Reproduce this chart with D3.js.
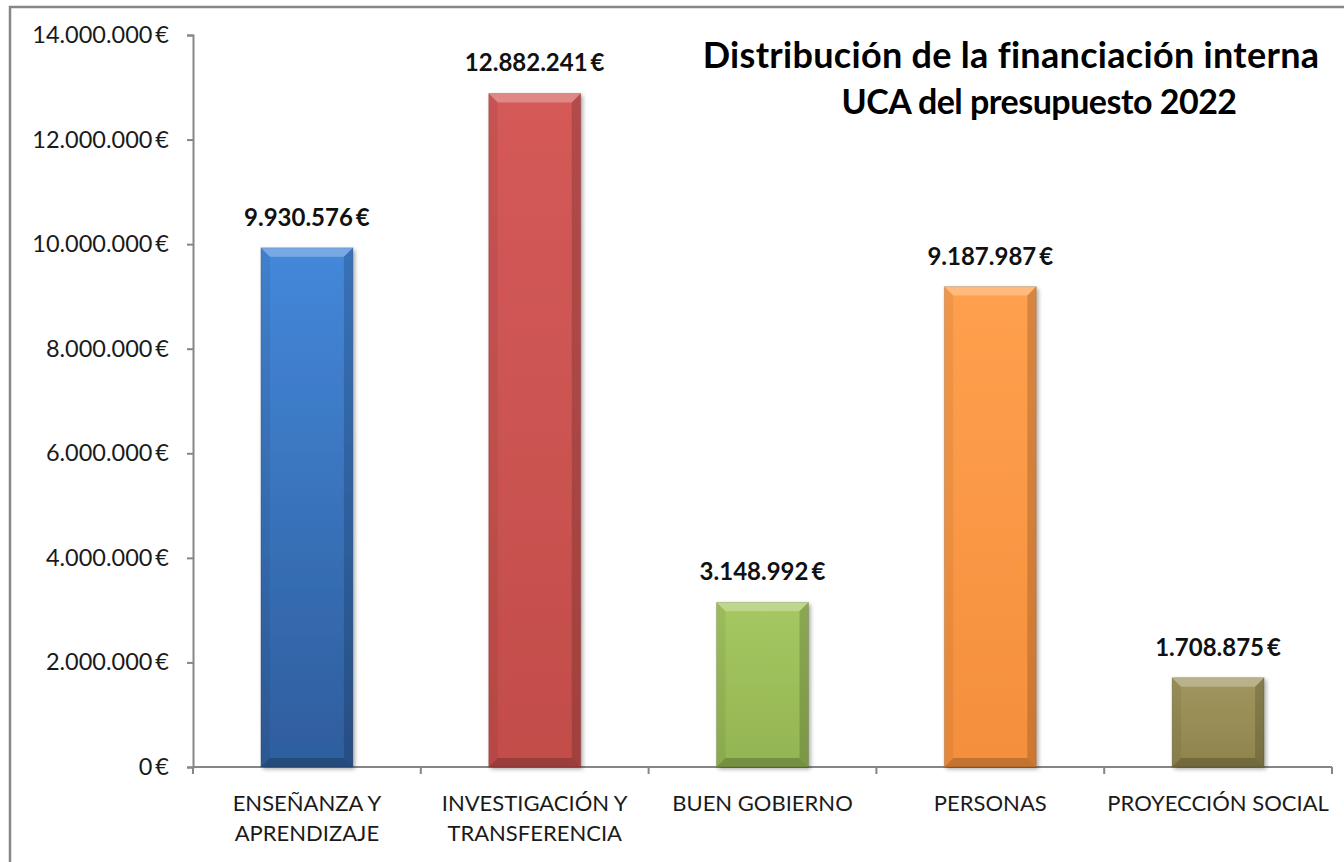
<!DOCTYPE html>
<html>
<head>
<meta charset="utf-8">
<script src="https://cdn.jsdelivr.net/npm/d3@7"></script>
<style>
  body { margin: 0; background: #fff; }
  svg { display: block; font-family: Lato, "Open Sans", sans-serif; }
</style>
</head>
<body>
<div id="chart"></div>
<script>
const categories = [
  ["ENSEÑANZA Y", "APRENDIZAJE"],
  ["INVESTIGACIÓN Y", "TRANSFERENCIA"],
  ["BUEN GOBIERNO"],
  ["PERSONAS"],
  ["PROYECCIÓN SOCIAL"]
];
const values = [9930576, 12882241, 3148992, 9187987, 1708875];
const yTicks = [0, 2000000, 4000000, 6000000, 8000000, 10000000, 12000000, 14000000];
const titleLines = ["Distribución de la financiación interna", "UCA del presupuesto 2022"];

// bar colours: [top, bottom]
const colors = [
  ["#4488da", "#2e5d9c"],
  ["#d45a58", "#c24d4a"],
  ["#a6c862", "#93b452"],
  ["#ffa04e", "#f48f3c"],
  ["#a0965e", "#8e844c"]
];

const W = 1344, H = 862;
const margin = {top: 35, right: 12, bottom: 95, left: 193};
const width = W - margin.left - margin.right,
      height = H - margin.top - margin.bottom;

const fmt = v => d3.format(",")(v).replace(/,/g, ".") + "\u2009€";

const svg = d3.select("#chart").append("svg")
  .attr("width", W).attr("height", H);

// outer frame
svg.append("rect")
  .attr("x", 10).attr("y", 7)
  .attr("width", W + 20).attr("height", H + 20)
  .attr("fill", "none").attr("stroke", "#878787").attr("stroke-width", 2.5);

const defs = svg.append("defs");
colors.forEach((c, i) => {
  const g = defs.append("linearGradient").attr("id", "grad" + i)
    .attr("x1", 0).attr("y1", 0).attr("x2", 0).attr("y2", 1);
  g.append("stop").attr("offset", "0%").attr("stop-color", c[0]);
  g.append("stop").attr("offset", "100%").attr("stop-color", c[1]);
});
const sh = defs.append("filter").attr("id", "shadow")
  .attr("x", "-20%").attr("y", "-20%").attr("width", "150%").attr("height", "150%");
sh.append("feDropShadow").attr("dx", 2).attr("dy", 2).attr("stdDeviation", 2)
  .attr("flood-color", "#000").attr("flood-opacity", 0.35);

const g = svg.append("g").attr("transform", `translate(${margin.left},${margin.top})`);

const x = d3.scaleBand().domain(d3.range(values.length)).range([0, width]).padding(0);
const y = d3.scaleLinear().domain([0, 14000000]).range([height, 0]);

// y axis
const yAxis = g.append("g")
  .call(d3.axisLeft(y).tickValues(yTicks).tickSize(6).tickPadding(18).tickFormat(fmt));
yAxis.select(".domain").attr("stroke", "#868686").attr("stroke-width", 2);
yAxis.selectAll(".tick line").attr("stroke", "#868686").attr("stroke-width", 2);
yAxis.selectAll("text").attr("font-size", 23.5).attr("fill", "#1a1a1a")
  .attr("font-family", "Lato, sans-serif");

// x axis with ticks at category boundaries
const xa = g.append("g").attr("transform", `translate(0,${height})`);
xa.append("line").attr("x1", 0).attr("x2", width)
  .attr("stroke", "#868686").attr("stroke-width", 2);
xa.selectAll("line.tk").data(d3.range(values.length + 1)).join("line")
  .attr("class", "tk")
  .attr("x1", d => d < values.length ? x(d) : x(d - 1) + x.bandwidth())
  .attr("x2", d => d < values.length ? x(d) : x(d - 1) + x.bandwidth())
  .attr("y1", 0).attr("y2", 7)
  .attr("stroke", "#868686").attr("stroke-width", 2);
xa.selectAll("text.cat").data(categories).join("text")
  .attr("class", "cat")
  .attr("x", (d, i) => x(i) + x.bandwidth() / 2)
  .attr("text-anchor", "middle")
  .attr("font-size", 22).attr("fill", "#1a1a1a")
  .selectAll("tspan").data(d => d).join("tspan")
  .attr("x", function() { return this.parentNode.getAttribute("x"); })
  .attr("y", (d, j) => 44 + j * 30)
  .text(d => d);

// bars
const bw = x.bandwidth() * 0.404;
const bev = 9;
const bars = g.selectAll("g.bar").data(values).join("g").attr("class", "bar")
  .attr("transform", (d, i) => `translate(${x(i) + (x.bandwidth() - bw) / 2},${y(d)})`);

bars.append("rect")
  .attr("width", bw).attr("height", d => height - y(d))
  .attr("fill", (d, i) => `url(#grad${i})`)
  .attr("filter", "url(#shadow)");

// bevel facets
bars.append("polygon")
  .attr("points", d => `0,0 ${bw},0 ${bw - bev},${bev} ${bev},${bev}`)
  .attr("fill", "#fff").attr("opacity", 0.28);
bars.append("polygon")
  .attr("points", d => { const h = height - y(d); return `0,0 ${bev},${bev} ${bev},${h - bev} 0,${h}`; })
  .attr("fill", "#000").attr("opacity", 0.06);
bars.append("polygon")
  .attr("points", d => { const h = height - y(d); return `${bw},0 ${bw},${h} ${bw - bev},${h - bev} ${bw - bev},${bev}`; })
  .attr("fill", "#000").attr("opacity", 0.16);
bars.append("polygon")
  .attr("points", d => { const h = height - y(d); return `0,${h} ${bw},${h} ${bw - bev},${h - bev} ${bev},${h - bev}`; })
  .attr("fill", "#000").attr("opacity", 0.2);
bars.append("rect")
  .attr("width", bw).attr("height", d => height - y(d))
  .attr("fill", "none").attr("stroke", "#000").attr("stroke-opacity", 0.15);

// value labels
g.selectAll("text.val").data(values).join("text")
  .attr("class", "val")
  .attr("x", (d, i) => x(i) + x.bandwidth() / 2)
  .attr("y", d => y(d) - 22)
  .attr("text-anchor", "middle")
  .attr("font-size", 24).attr("font-weight", "bold").attr("fill", "#111")
  .text(fmt);

// title
svg.append("text")
  .attr("x", 1011).attr("y", 68)
  .attr("text-anchor", "middle")
  .attr("font-weight", "bold").attr("fill", "#000")
  .selectAll("tspan").data(titleLines).join("tspan")
  .attr("x", (d, i) => i === 0 ? 1011 : 1039)
  .attr("dy", (d, i) => i === 0 ? 0 : 46)
  .attr("font-size", (d, i) => i === 0 ? 36 : 34)
  .attr("letter-spacing", (d, i) => i === 0 ? 0.3 : -0.5)
  .text(d => d);
</script>
</body>
</html>
